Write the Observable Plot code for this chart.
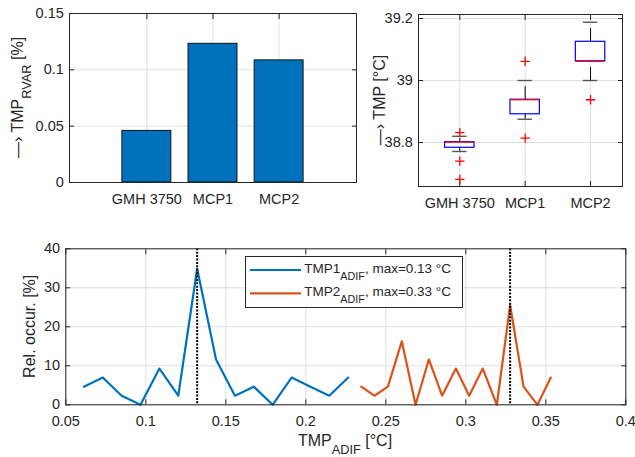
<!DOCTYPE html>
<html>
<head>
<meta charset="utf-8">
<script src="https://cdn.jsdelivr.net/npm/d3@7"></script>
<script src="https://cdn.jsdelivr.net/npm/@observablehq/plot@0.6"></script>
<style>
  html, body { margin: 0; padding: 0; background: #fff; }
  #fig { position: relative; width: 635px; height: 457px; overflow: hidden; background: #fff; }
  #fig svg { position: absolute; }
</style>
</head>
<body>
<div id="fig"></div>
<script>
// ---- sensors -------------------------------------------------------------
const sensors = ["GMH 3750", "MCP1", "MCP2"];
const sensorPos = [1, 2, 3];

// relative variance of the temperature [%]
const rvar = [0.0458, 0.1231, 0.1084];

// box plot statistics of the temperature [°C]
const boxQ1 = [38.783, 38.891, 39.062];
const boxMedian = [38.801, 38.938, 39.062];
const boxQ3 = [38.801, 38.938, 39.125];
const whiskerLow = [38.771, 38.875, 39.000];
const whiskerHigh = [38.820, 39.000, 39.188];
const outlierSensor = [1, 1, 1, 2, 2, 3];
const outlierValue = [38.832, 38.740, 38.681, 39.062, 38.814, 38.938];

// relative occurrence of the absolute temperature difference
const adif1X = [0.0613, 0.0731, 0.0849, 0.0967, 0.1085, 0.1203, 0.1321, 0.1439, 0.1557, 0.1675, 0.1793, 0.1911, 0.2029, 0.2147, 0.2265];
const adif1Occ = [4.65, 6.98, 2.33, 0, 9.30, 2.33, 34.88, 11.63, 2.33, 4.65, 0, 6.98, 4.65, 2.33, 6.98];
const adif2X = [0.2346, 0.2429, 0.2513, 0.2600, 0.2686, 0.2769, 0.2852, 0.2938, 0.3021, 0.3106, 0.3194, 0.3277, 0.3361, 0.3448, 0.3531];
const adif2Occ = [4.65, 2.33, 4.65, 16.28, 0, 11.63, 2.33, 9.30, 2.33, 9.30, 0, 25.58, 4.65, 0, 6.98];

// tick values
const rvarTicks = [0, 0.05, 0.1, 0.15];
const tmpTicks = [38.8, 39, 39.2];
const adifTicks = [0.05, 0.1, 0.15, 0.2, 0.25, 0.3, 0.35, 0.4];
const occTicks = [0, 10, 20, 30, 40];

// ---- shared look ----------------------------------------------------------
const INK = "#262626";
const FONT = '"Liberation Sans", Arial, Helvetica, sans-serif';
const TICK_FONT = 14.5;
const LABEL_FONT = 16;
const BLUE = "#0072BD";
const ORANGE = "#D95319";

const style = {fontFamily: FONT, fontSize: TICK_FONT + "px", color: INK, background: "transparent", overflow: "visible"};
const num = (d) => String(+d.toFixed(4));
const blank = () => "";

// grid, inward ticks on all four sides, tick labels on left/bottom
function axesMarks(xTicks, yTicks, xFormat, yFormat) {
  return [
    Plot.gridX({ticks: xTicks, stroke: INK, strokeOpacity: 0.14}),
    Plot.gridY({ticks: yTicks, stroke: INK, strokeOpacity: 0.14}),
    Plot.axisX({anchor: "bottom", ticks: xTicks, tickFormat: xFormat, tickSize: -5, tickPadding: 16, label: null, stroke: INK}),
    Plot.axisX({anchor: "top", ticks: xTicks, tickFormat: blank, tickSize: -5, label: null, stroke: INK}),
    Plot.axisY({anchor: "left", ticks: yTicks, tickFormat: yFormat, tickSize: -5, tickPadding: 10.7, label: null, stroke: INK}),
    Plot.axisY({anchor: "right", ticks: yTicks, tickFormat: blank, tickSize: -5, label: null, stroke: INK})
  ];
}

// axis title with optional subscripts
function addTitle(svg, {x, y, rotate = 0, size = LABEL_FONT, parts}) {
  const shift = size * 0.5;
  const t = d3.select(svg).append("text")
    .attr("transform", `translate(${x},${y}) rotate(${rotate})`)
    .attr("text-anchor", "middle")
    .attr("fill", INK)
    .style("font-family", FONT)
    .style("font-size", size + "px")
    .style("white-space", "pre");
  let shifted = false;
  for (const p of parts) {
    const span = t.append("tspan").text(p.text);
    if (p.sub && !shifted) { span.attr("dy", shift).style("font-size", (size * 0.8) + "px"); shifted = true; }
    else if (!p.sub && shifted) { span.attr("dy", -shift); shifted = false; }
  }
  return t;
}

const fig = document.getElementById("fig");

// ---- relative variance bars ----------------------------------------------
const bars = sensors.map((s, i) => ({sensor: s, pos: sensorPos[i], v: rvar[i]}));
const barHalf = 0.37;
const svgA = Plot.plot({
  width: 370, height: 215,
  marginLeft: 69, marginRight: 14, marginTop: 13, marginBottom: 33,
  x: {type: "linear", domain: [-0.17, 4.17]},
  y: {domain: [0, 0.15]},
  style,
  marks: [
    ...axesMarks(sensorPos, rvarTicks, (d) => sensors[d - 1], num),
    Plot.rectY(bars, {x1: (d) => d.pos - barHalf, x2: (d) => d.pos + barHalf, y: "v", fill: BLUE, stroke: "#111", strokeWidth: 1}),
    Plot.frame({stroke: INK})
  ]
});
svgA.style.left = "0px"; svgA.style.top = "0px";
fig.appendChild(svgA);
addTitle(svgA, {x: 22.5, y: 97.5, rotate: -90, parts: [{text: "\u2014\u203A TMP"}, {text: "RVAR", sub: true}, {text: " [%]"}]});

// ---- temperature box plots -------------------------------------------------
const boxes = sensors.map((s, i) => ({sensor: s, pos: sensorPos[i], q1: boxQ1[i], med: boxMedian[i], q3: boxQ3[i], lo: whiskerLow[i], hi: whiskerHigh[i]}));
const outliers = outlierSensor.map((p, i) => ({pos: p, v: outlierValue[i]}));
const boxHalf = 0.225, capHalf = 0.11;
const plusSymbol = {
  draw(context, size) {
    const r = Math.sqrt(size / Math.PI);
    context.moveTo(-r, 0); context.lineTo(r, 0);
    context.moveTo(0, -r); context.lineTo(0, r);
  }
};
const svgB = Plot.plot({
  width: 265, height: 215,
  marginLeft: 48, marginRight: 13, marginTop: 14, marginBottom: 29,
  x: {type: "linear", domain: [0.368, 3.489]},
  y: {domain: [38.658, 39.213]},
  style,
  marks: [
    ...axesMarks(sensorPos, tmpTicks, (d) => sensors[d - 1], num),
    Plot.ruleX(boxes, {x: "pos", y1: "lo", y2: "hi", stroke: "#000", strokeWidth: 1, strokeDasharray: "13,6.5"}),
    Plot.ruleY(boxes, {y: "lo", x1: (d) => d.pos - capHalf, x2: (d) => d.pos + capHalf, stroke: "#555", strokeWidth: 1.4}),
    Plot.ruleY(boxes, {y: "hi", x1: (d) => d.pos - capHalf, x2: (d) => d.pos + capHalf, stroke: "#555", strokeWidth: 1.4}),
    Plot.rect(boxes, {x1: (d) => d.pos - boxHalf, x2: (d) => d.pos + boxHalf, y1: "q1", y2: "q3", fill: "white", stroke: "#0000ff", strokeWidth: 1.2}),
    Plot.ruleY(boxes, {y: "med", x1: (d) => d.pos - boxHalf, x2: (d) => d.pos + boxHalf, stroke: "#ff0000", strokeWidth: 1.2}),
    Plot.dot(outliers, {x: "pos", y: "v", symbol: plusSymbol, r: 4.7, fill: "none", stroke: "#ff0000", strokeWidth: 1.3}),
    Plot.frame({stroke: INK})
  ]
});
svgB.style.left = "370px"; svgB.style.top = "0px";
fig.appendChild(svgB);
addTitle(svgB, {x: 15, y: 100, rotate: -90, parts: [{text: "\u2014\u203A TMP [\u00B0C]"}]});

// ---- relative occurrence of the absolute difference -----------------------
const series1 = adif1X.map((x, i) => ({x, occ: adif1Occ[i]}));
const series2 = adif2X.map((x, i) => ({x, occ: adif2Occ[i]}));
const peakX = (xs, ys) => xs[d3.maxIndex(ys)];
const peak1 = peakX(adif1X, adif1Occ);
const peak2 = peakX(adif2X, adif2Occ);

const svgC = Plot.plot({
  width: 635, height: 242,
  marginLeft: 65.3, marginRight: 9.7, marginTop: 33.3, marginBottom: 52.7,
  x: {domain: [0.05, 0.4]},
  y: {domain: [0, 40]},
  style,
  marks: [
    ...axesMarks(adifTicks, occTicks, num, num),
    Plot.line(series1, {x: "x", y: "occ", stroke: BLUE, strokeWidth: 2.2}),
    Plot.line(series2, {x: "x", y: "occ", stroke: ORANGE, strokeWidth: 2.2}),
    Plot.ruleX([peak1, peak2], {stroke: "#000", strokeWidth: 2, strokeDasharray: "2,1.4"}),
    Plot.frame({stroke: INK})
  ]
});
svgC.style.left = "0px"; svgC.style.top = "215px";
fig.appendChild(svgC);
addTitle(svgC, {x: 35, y: 111.3, rotate: -90, parts: [{text: "Rel. occur. [%]"}]});
addTitle(svgC, {x: 345, y: 231, parts: [{text: "TMP"}, {text: "ADIF", sub: true}, {text: " [\u00B0C]"}]});

// legend
{
  const g = d3.select(svgC).append("g").style("font-family", FONT).attr("text-anchor", "start");
  g.append("rect").attr("x", 245.5).attr("y", 41.5).attr("width", 217).attr("height", 51)
    .attr("fill", "white").attr("stroke", INK).attr("stroke-width", 1);
  const entries = [
    {name: "TMP1", color: BLUE, peak: peak1, y: 55},
    {name: "TMP2", color: ORANGE, peak: peak2, y: 78.3}
  ];
  const LEG = 13.5;
  for (const e of entries) {
    g.append("line").attr("x1", 250).attr("x2", 301).attr("y1", e.y).attr("y2", e.y)
      .attr("stroke", e.color).attr("stroke-width", 2.2);
    const t = g.append("text").attr("x", 304.3).attr("y", e.y + 2.5)
      .attr("text-anchor", "start")
      .attr("fill", INK).style("font-size", LEG + "px").style("white-space", "pre");
    t.append("tspan").text(e.name);
    t.append("tspan").attr("dy", 7).style("font-size", (LEG * 0.8) + "px").text("ADIF");
    t.append("tspan").attr("dy", -7).text(`, max=${e.peak.toFixed(2)} \u00B0C`);
  }
}
</script>
</body>
</html>
